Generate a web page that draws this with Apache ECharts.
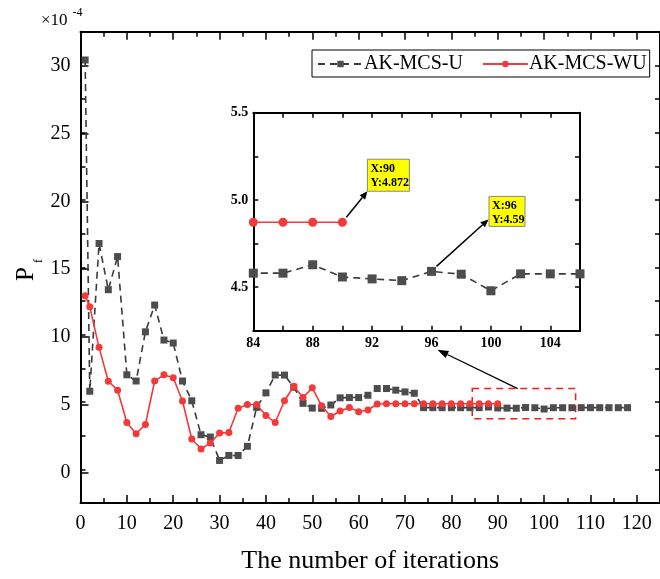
<!DOCTYPE html>
<html><head><meta charset="utf-8">
<script src="https://cdn.jsdelivr.net/npm/echarts@6/dist/echarts.min.js"></script>
<style>html,body{margin:0;padding:0;background:#fff}#c{width:660px;height:579px}</style>
</head><body><div id="c"></div>
<script>
// ---- data ----
const iterU = [1,2,4,6,8,10,12,14,16,18,20,22,24,26,28,30,32,34,36,38,40,42,44,46,48,50,52,54,56,58,60,62,64,66,68,70,72,74,76,78,80,82,84,86,88,90,92,94,96,98,100,102,104,106,108,110,112,114,116,118];
const pfU = [30.4,5.8,16.77,13.34,15.8,7.02,6.56,10.21,12.2,9.6,9.38,6.56,5.09,2.57,2.4,0.66,1.03,1.03,1.71,4.6,5.68,7.0,7.0,6.1,4.9,4.55,4.53,4.78,5.31,5.33,5.33,5.5,6.0,6.0,5.88,5.75,5.65,4.58,4.58,4.58,4.58,4.58,4.58,4.58,4.628,4.558,4.547,4.537,4.59,4.574,4.479,4.576,4.576,4.576,4.58,4.58,4.58,4.58,4.58,4.58];
const iterWU = [1,2,4,6,8,10,12,14,16,18,20,22,24,26,28,30,32,34,36,38,40,42,44,46,48,50,52,54,56,58,60,62,64,66,68,70,72,74,76,78,80,82,84,86,88,90];
const pfWU = [12.9,12.07,9.06,6.54,5.88,3.48,2.64,3.33,6.56,7.02,6.8,5.07,2.25,1.51,1.96,2.69,2.74,4.53,4.82,4.82,3.99,3.48,5.09,6.17,5.33,6.05,4.72,3.92,4.33,4.6,4.28,4.41,4.85,4.87,4.872,4.872,4.872,4.872,4.872,4.872,4.872,4.872,4.872,4.872,4.872,4.872];
const seriesNames = ['AK-MCS-U','AK-MCS-WU'];
const xTickLabels = [0,10,20,30,40,50,60,70,80,90,100,110,120];
const yTickLabels = [0,5,10,15,20,25,30];
const insetXTicks = [84,88,92,96,100,104];
const insetYTicks = ['4.5','5.0','5.5'];
const note1 = ['X:90','Y:4.872'];
const note2 = ['X:96','Y:4.59'];
const xTitle = 'The number of iterations';

const dataU = iterU.map((x,i)=>[x,pfU[i]]);
const dataWU = iterWU.map((x,i)=>[x,pfWU[i]]);

const FONT = '"Liberation Serif", "Times New Roman", serif';
const GREY = '#4d4d4d';
const RED = '#f23a3a';

const chart = echarts.init(document.getElementById('c'), null, {renderer:'canvas'});

const axisLine = {show:true, onZero:false, lineStyle:{color:'#000', width:2}};
const noLabel = {show:false};
const tk = (len)=>({inside:true, length:len, lineStyle:{color:'#000', width:1.5}});

const option = {
  animation:false,
  backgroundColor:'#fff',
  grid:[
    {left:80.5, top:31.7, width:590.6, height:475},
    {left:80.5, top:65.63, width:590.6, height:407.14},
    {left:253.3, top:112.7, width:326.7, height:218}
  ],
  legend:{
    data:seriesNames, left:312, top:50, orient:'horizontal',
    itemWidth:45, itemHeight:8, itemGap:19,
    padding:[4,3,3,5],
    borderColor:'#000', borderWidth:1,
    textStyle:{fontFamily:FONT, fontSize:20, color:'#000', padding:[0,0,0,-4]}
  },
  xAxis:[
    {gridIndex:0, type:'value', position:'bottom', min:0, max:125, interval:10,
      axisLine, axisTick:tk(8),
      minorTick:{show:true, splitNumber:2, length:5, lineStyle:{color:'#000', width:1.5}},
      splitLine:{show:false}, minorSplitLine:{show:false},
      axisLabel:{fontFamily:FONT, fontSize:20, color:'#000', margin:11, showMaxLabel:false,
        formatter:v=>xTickLabels.includes(v)?String(v):''},
      name:xTitle, nameLocation:'middle', nameGap:45,
      nameTextStyle:{fontFamily:FONT, fontSize:26, color:'#000'}},
    {gridIndex:0, type:'value', position:'top', min:0, max:125, interval:10,
      axisLine, axisTick:tk(8),
      minorTick:{show:true, splitNumber:2, length:5, lineStyle:{color:'#000', width:1.5}},
      splitLine:{show:false}, axisLabel:noLabel},
    {gridIndex:1, type:'value', min:0, max:125, show:false},
    {gridIndex:2, type:'value', position:'bottom', min:84, max:106, interval:2,
      axisLine, axisTick:tk(5), splitLine:{show:false},
      axisLabel:{fontFamily:FONT, fontSize:14, fontWeight:'bold', color:'#000', margin:6, showMaxLabel:false,
        formatter:v=>insetXTicks.includes(v)?String(v):''}},
    {gridIndex:2, type:'value', position:'top', min:84, max:106, interval:2,
      axisLine, axisTick:tk(5), splitLine:{show:false}, axisLabel:noLabel}
  ],
  yAxis:[
    {gridIndex:0, type:'value', position:'left', min:-2.5, max:32.5, interval:2.5,
      axisLine, axisTick:tk(5), splitLine:{show:false}, axisLabel:noLabel},
    {gridIndex:0, type:'value', position:'right', min:-2.5, max:32.5, interval:2.5,
      axisLine, axisTick:tk(5), splitLine:{show:false}, axisLabel:noLabel},
    {gridIndex:1, type:'value', position:'left', min:0, max:30, interval:5,
      axisLine:{show:false, onZero:false}, axisTick:tk(8), splitLine:{show:false},
      axisLabel:{fontFamily:FONT, fontSize:20, color:'#000', margin:10,
        formatter:v=>yTickLabels.includes(v)?String(v):''}},
    {gridIndex:2, type:'value', position:'left', min:4.25, max:5.5, interval:0.25,
      axisLine, axisTick:tk(5), splitLine:{show:false},
      axisLabel:{fontFamily:FONT, fontSize:14, fontWeight:'bold', color:'#000', margin:5, showMinLabel:false,
        formatter:v=>insetYTicks.includes(v.toFixed(1)) && Math.abs(v*2-Math.round(v*2))<1e-9 ? v.toFixed(1) : ''}},
    {gridIndex:2, type:'value', position:'right', min:4.25, max:5.5, interval:0.25,
      axisLine, axisTick:tk(5), splitLine:{show:false}, axisLabel:noLabel}
  ],
  series:[
    {name:seriesNames[0], type:'line', xAxisIndex:0, yAxisIndex:0, data:dataU,
      symbol:'rect', symbolSize:7, showSymbol:true, z:3,
      itemStyle:{color:GREY},
      lineStyle:{color:'#3a3a3a', width:1.6, type:[7,5]},
      markArea:{silent:true, itemStyle:{color:'rgba(0,0,0,0)', borderColor:'#f01e1e', borderWidth:1.5, borderType:[7,5]},
        data:[[{coord:[84.5,6.0]},{coord:[106.8,3.75]}]]}},
    {name:seriesNames[1], type:'line', xAxisIndex:0, yAxisIndex:0, data:dataWU,
      symbol:'circle', symbolSize:7, showSymbol:true, z:4,
      itemStyle:{color:RED},
      lineStyle:{color:RED, width:1.6}},
    {name:seriesNames[0], type:'line', xAxisIndex:3, yAxisIndex:3, data:dataU,
      symbol:'rect', symbolSize:9, showSymbol:true, clip:true,
      itemStyle:{color:GREY},
      lineStyle:{color:'#3a3a3a', width:1.6, type:[7,5]}},
    {name:seriesNames[1], type:'line', xAxisIndex:3, yAxisIndex:3, data:dataWU,
      symbol:'circle', symbolSize:9, showSymbol:true, clip:true,
      itemStyle:{color:RED},
      lineStyle:{color:RED, width:1.6}}
  ]
};
chart.setOption(option);

// ---- annotations (positions derived from axes) ----
function px(grid, pt){ return chart.convertToPixel({gridIndex:grid}, pt); }
function arrow(p0, p1, lw, hl, hw){
  const dx=p1[0]-p0[0], dy=p1[1]-p0[1], L=Math.hypot(dx,dy), ux=dx/L, uy=dy/L, nx=-uy, ny=ux;
  const b=[p1[0]-ux*hl, p1[1]-uy*hl];
  return [
    {type:'line', shape:{x1:p0[0], y1:p0[1], x2:b[0], y2:b[1]}, style:{stroke:'#000', lineWidth:lw}, z:50},
    {type:'polygon', shape:{points:[p1,[b[0]+nx*hw,b[1]+ny*hw],[b[0]-nx*hw,b[1]-ny*hw]]}, style:{fill:'#000'}, z:50}
  ];
}
function noteBox(x, y, w, h, lines){
  return {type:'group', x:x, y:y, z:60, children:[
    {type:'rect', shape:{x:0,y:0,width:w,height:h}, style:{fill:'#ffff00', stroke:'#888', lineWidth:1}},
    {type:'text', x:3, y:3, style:{text:lines.join('\n'), font:'bold 12px '+FONT, fill:'#000', lineHeight:13.5}}
  ]};
}
const a1 = px(2,[90,4.872]);
const a2 = px(2,[96,4.59]);
const rTop = px(0,[94.3,6.0]);
const insBot = px(2,[96.4,4.25]);
const g = [];
g.push(...arrow([a1[0]+4,a1[1]-5],[a1[0]+25,a1[1]-31],1.5,8,3.5));
g.push(noteBox(a1[0]+25, a1[1]-63, 42, 32, note1));
g.push(...arrow([a2[0]+5,a2[1]-5],[a2[0]+57,a2[1]-52],1.5,8,3.5));
g.push(noteBox(a2[0]+57.5, a2[1]-75, 36, 30, note2));
g.push(...arrow(rTop,[insBot[0],insBot[1]+19],1.3,11,4));
// y-axis scale factor
g.push({type:'text', x:41, y:12, style:{text:'×10', font:'17px '+FONT, fill:'#000'}});
g.push({type:'text', x:72.5, y:7, style:{text:'-4', font:'12px '+FONT, fill:'#000'}});
// y-axis title P_f (rotated)
g.push({type:'group', x:38.5, y:281, rotation:Math.PI/2, children:[
  {type:'text', x:0, y:0, style:{text:'P', font:'25px '+FONT, fill:'#000', verticalAlign:'bottom'}},
  {type:'text', x:18, y:6, style:{text:'f', font:'12px '+FONT, fill:'#000', verticalAlign:'bottom'}}
]});
chart.setOption({graphic:g});
</script>
</body></html>
